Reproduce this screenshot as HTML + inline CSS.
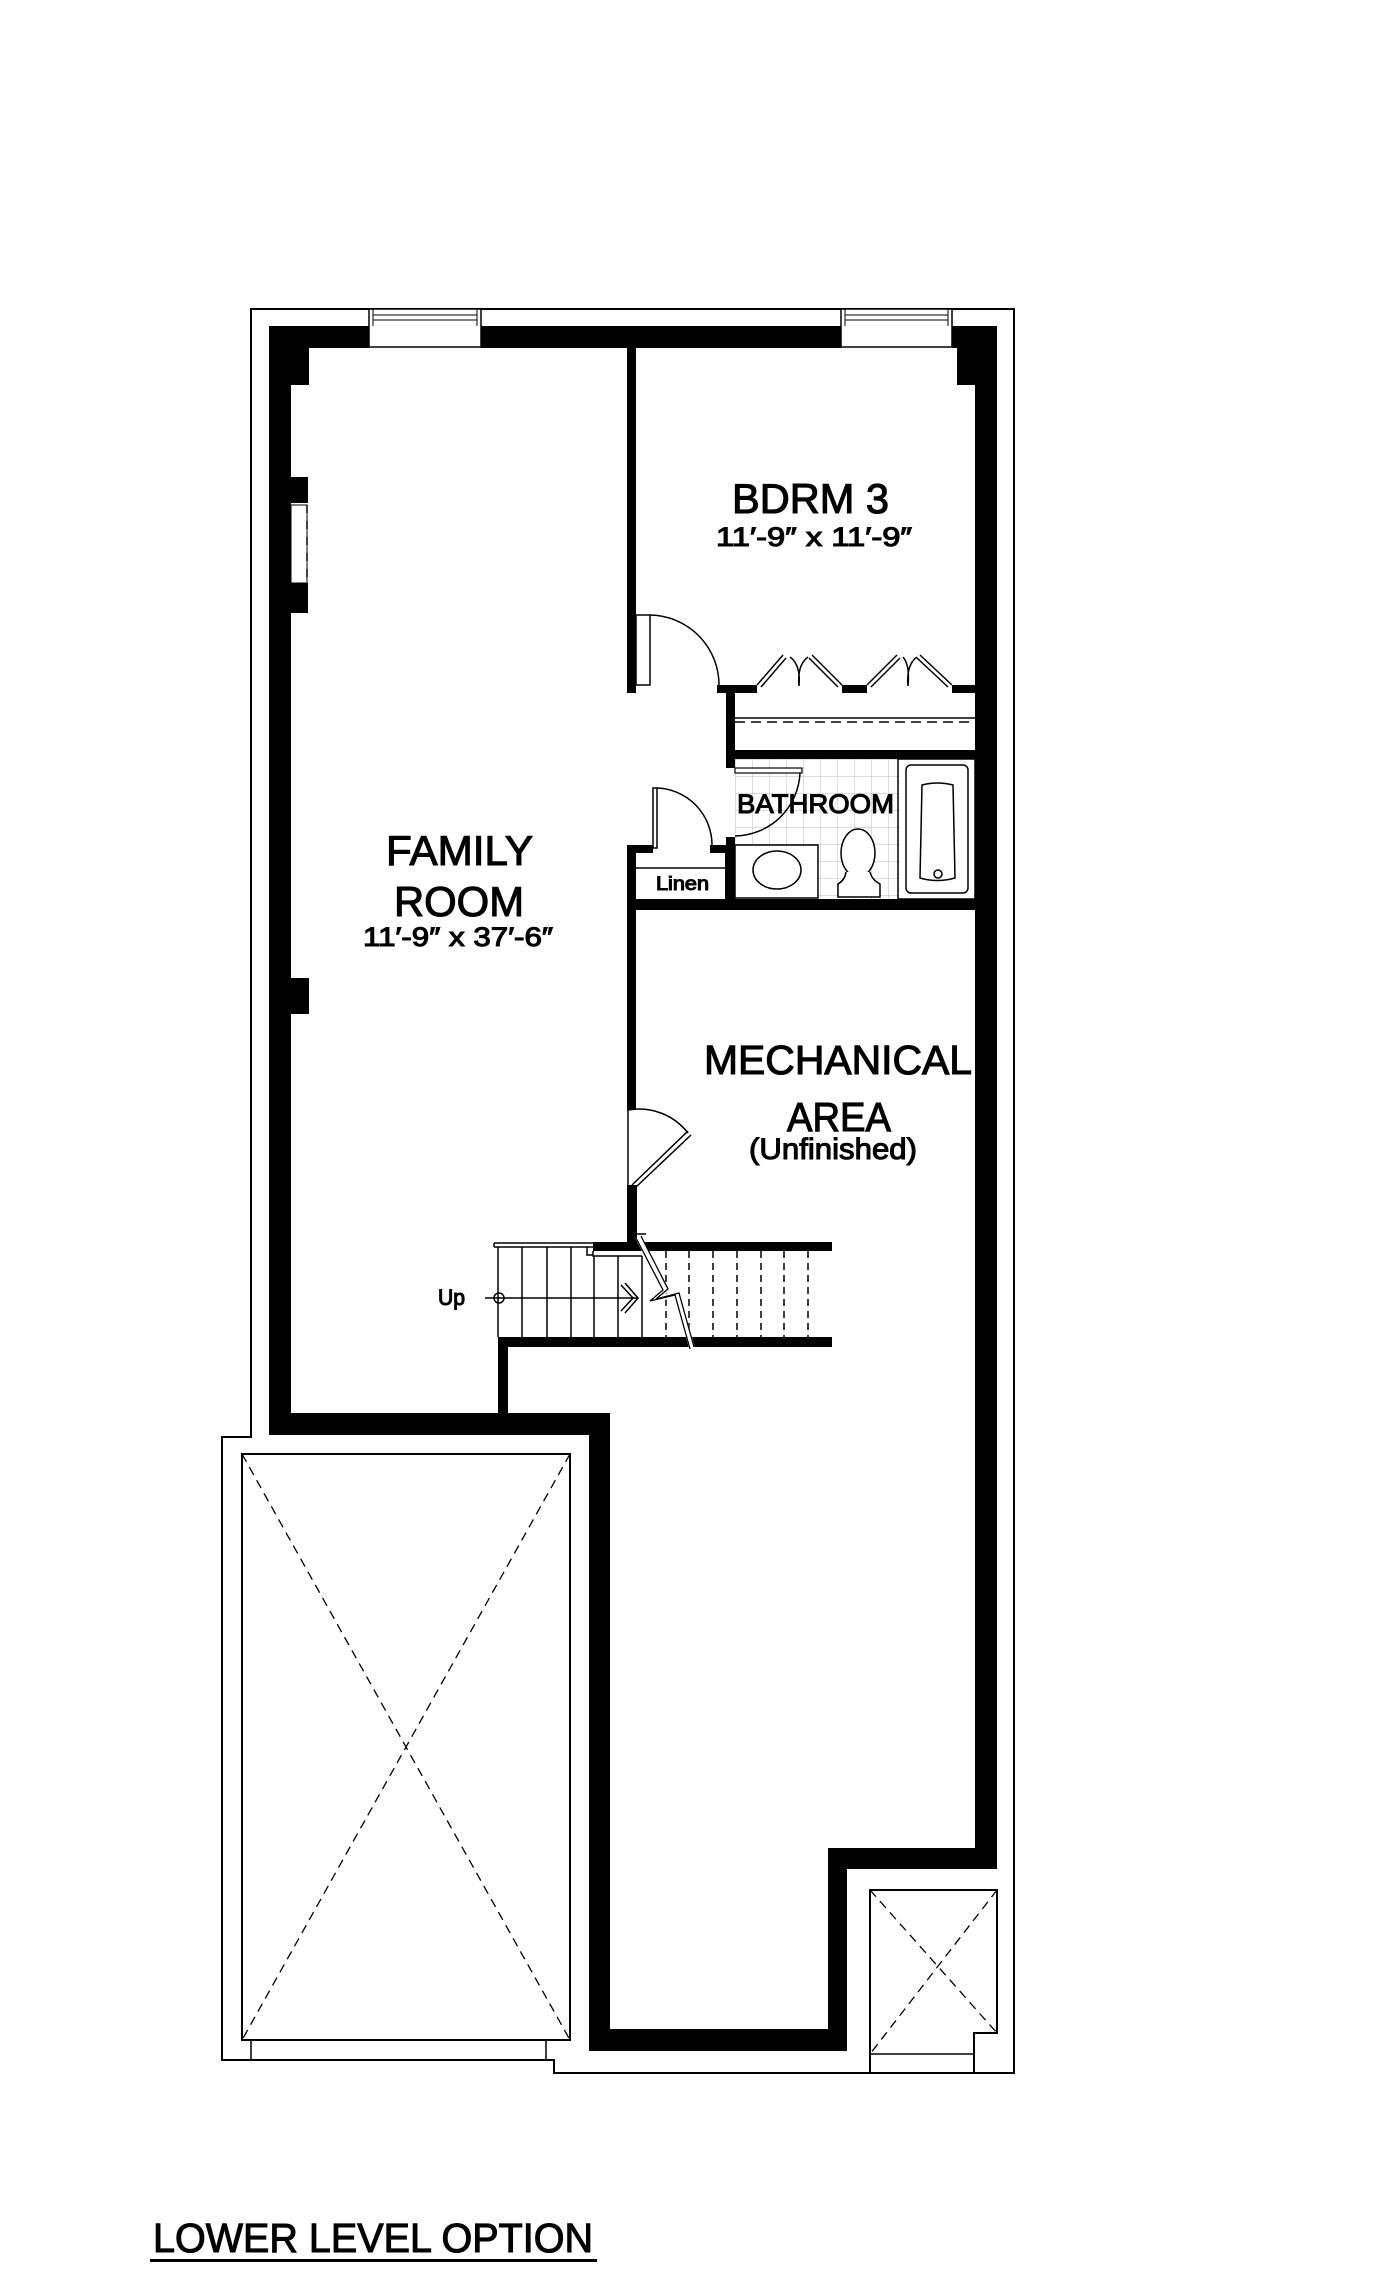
<!DOCTYPE html>
<html><head><meta charset="utf-8"><style>
html,body{margin:0;padding:0;background:#fff;}
svg{display:block;}
text{font-family:"Liberation Sans",sans-serif;fill:#000;stroke:#000;stroke-width:1.1;}
</style></head><body>
<svg width="1400" height="2277" viewBox="0 0 1400 2277" xmlns="http://www.w3.org/2000/svg">
<defs>
<pattern id="tile" x="735" y="759" width="17" height="17" patternUnits="userSpaceOnUse">
<path d="M0 0H17M0 0V17" stroke="#bbb" stroke-width="1" fill="none"/>
</pattern>
</defs>
<rect width="1400" height="2277" fill="#fff"/>

<!-- outer thin outline -->
<path d="M251 1437 V309 H1014 V2073 H554 V2060 H222 V1437 Z" fill="none" stroke="#000" stroke-width="2"/>

<!-- top windows -->
<g fill="#fff" stroke="#000" stroke-width="1.5">
<rect x="369" y="309" width="112" height="38"/>
<rect x="841" y="309" width="111" height="38"/>
</g>
<g stroke="#000" stroke-width="1" fill="none">
<path d="M373 309V326M477 309V326M373 315H477M373 320H477"/>
<path d="M845 309V326M948 309V326M845 315H948M845 320H948"/>
</g>

<!-- thick exterior walls -->
<g fill="#000">
<rect x="269" y="326" width="100" height="22"/>
<rect x="481" y="326" width="360" height="22"/>
<rect x="952" y="326" width="45" height="22"/>
<rect x="269" y="326" width="22" height="1109"/>
<rect x="975" y="326" width="22" height="1543"/>
<rect x="291" y="348" width="18" height="37"/>
<rect x="957" y="348" width="18" height="37"/>
<rect x="291" y="477" width="17" height="26"/>
<rect x="291" y="583" width="17" height="30"/>
<rect x="291" y="978" width="18" height="36"/>
<rect x="269" y="1413" width="341" height="22"/>
<rect x="589" y="1413" width="21" height="638"/>
<rect x="589" y="2029" width="258" height="22"/>
<rect x="828" y="1848" width="19" height="203"/>
<rect x="828" y="1848" width="169" height="21"/>
<rect x="627" y="348" width="9" height="345"/>
<rect x="627" y="685" width="9" height="8"/>
<rect x="717" y="685" width="40" height="8"/>
<rect x="842" y="685" width="25" height="8"/>
<rect x="952" y="685" width="23" height="8"/>
<rect x="726" y="685" width="9" height="83"/>
<rect x="726" y="750" width="249" height="9"/>
<rect x="726" y="837" width="9" height="70"/>
<rect x="627" y="899" width="348" height="11"/>
<rect x="627" y="845" width="9" height="265"/>
<rect x="627" y="845" width="26" height="8"/>
<rect x="710" y="845" width="16" height="8"/>
<rect x="627" y="1185" width="10" height="57"/>
<rect x="593" y="1242" width="239" height="9"/>
<rect x="498" y="1337" width="334" height="10"/>
<rect x="498" y="1337" width="10" height="78"/>
</g>

<!-- side window -->
<rect x="291" y="505" width="16" height="78" fill="#fff" stroke="#000" stroke-width="1"/>
<line x1="307" y1="505" x2="307" y2="583" stroke="#000" stroke-width="1.5" stroke-dasharray="8,8"/>

<!-- bedroom door -->
<rect x="636" y="615" width="14" height="70" fill="#fff" stroke="#000" stroke-width="1.5"/>
<path d="M650 615 A70 70 0 0 1 719 686" fill="none" stroke="#000" stroke-width="1.5"/>

<!-- bifold closet doors -->
<g fill="none" stroke="#000" stroke-width="1.5">
<path d="M757 685 L783 655 M761 687 L786 658"/>
<path d="M812 655 L842 685 M809 658 L838 687"/>
<path d="M790 657 Q801 665 799 686 M808 657 Q797 665 799 686"/>
<path d="M867 685 L897 655 M871 687 L900 658"/>
<path d="M920 655 L952 685 M917 658 L948 687"/>
<path d="M903 657 Q910 665 908 686 M917 657 Q906 665 908 686"/>
</g>
<line x1="735" y1="718" x2="975" y2="718" stroke="#000" stroke-width="1.5"/>
<line x1="735" y1="722" x2="975" y2="722" stroke="#000" stroke-width="1.5" stroke-dasharray="10,6"/>

<!-- bathroom -->
<rect x="735" y="759" width="163" height="140" fill="url(#tile)"/>
<rect x="898" y="759" width="77" height="140" fill="#fff" stroke="#000" stroke-width="1.5"/>
<rect x="906" y="765" width="62" height="128" rx="5" fill="#fff" stroke="#000" stroke-width="1.5"/>
<path d="M922 785 Q937 781 953 785 L955 878 Q937 883 920 878 Z" fill="#fff" stroke="#000" stroke-width="1.5"/>
<circle cx="938" cy="874" r="4" fill="#fff" stroke="#000" stroke-width="1.5"/>
<rect x="735" y="845" width="83" height="53" fill="#fff" stroke="#000" stroke-width="1.5"/>
<ellipse cx="777" cy="870" rx="24" ry="19" fill="#fff" stroke="#000" stroke-width="1.5"/>
<ellipse cx="858" cy="853" rx="17" ry="24" fill="#fff" stroke="#000" stroke-width="1.5"/>
<path d="M846 872 Q845 880 838 884 V897 H880 V884 Q872 880 870 872" fill="#fff" stroke="#000" stroke-width="1.5"/>
<rect x="735" y="768" width="67" height="5" fill="#fff" stroke="#000" stroke-width="1.2"/>
<path d="M800 773 A66 66 0 0 1 735 836" fill="none" stroke="#000" stroke-width="1.5"/>

<!-- linen -->
<rect x="653" y="788" width="4" height="60" fill="#fff" stroke="#000" stroke-width="1.5"/>
<path d="M657 788 A57 57 0 0 1 712 845" fill="none" stroke="#000" stroke-width="1.5"/>
<line x1="636" y1="868" x2="726" y2="868" stroke="#000" stroke-width="1.5"/>
<line x1="726" y1="853" x2="726" y2="899" stroke="#000" stroke-width="2"/>

<!-- mechanical door -->
<line x1="628" y1="1110" x2="628" y2="1185" stroke="#000" stroke-width="1.5"/>
<path d="M628 1110 A62 62 0 0 1 688 1133" fill="none" stroke="#000" stroke-width="1.5"/>
<path d="M688 1131 L632 1185 M691 1135 L636 1187" stroke="#000" stroke-width="1.5" fill="none"/>

<!-- stairs -->
<g stroke="#000" fill="none">
<path d="M494 1243 H593 M494 1247 H593 M494 1243 V1247" stroke-width="1.5"/>
<path d="M587 1247 V1255 H593" stroke-width="1.5"/>
<path d="M593 1251 V1256 H642" stroke-width="1.5"/>
<g stroke-width="1.5">
<path d="M498 1247V1337M522 1247V1337M547 1247V1337M571 1247V1337M594 1256V1337M618 1256V1337M642 1256V1337"/>
</g>
<g stroke-width="1.5" stroke-dasharray="7,5">
<path d="M666 1251V1337M689 1251V1337M713 1251V1337M737 1251V1337M761 1251V1337M784 1251V1337M808 1251V1337"/>
</g>
<line x1="485" y1="1298" x2="638" y2="1298" stroke-width="1.5"/>
<circle cx="499" cy="1298" r="5" stroke-width="1.5"/>
<path d="M625 1283 L638 1298 L625 1313 M621 1285 L633 1298 L621 1311" stroke-width="1.5"/>
<path d="M638 1237 L665 1290 L652 1300 L677 1294 L692 1348" stroke="#fff" stroke-width="6"/>
<path d="M636 1238 L663 1290 L650 1301 L675 1295 L690 1349" stroke-width="1.3"/>
<path d="M641 1236 L668 1289 L656 1299 L679 1293 L694 1347" stroke-width="1.3"/>
<path d="M636 1234 H646" stroke-width="1.5"/>
</g>

<!-- left dashed box -->
<rect x="242" y="1454" width="328" height="586" fill="none" stroke="#000" stroke-width="2"/>
<path d="M242 1454 L570 2040 M570 1454 L242 2040" stroke="#000" stroke-width="1.3" stroke-dasharray="9,6"/>
<path d="M251 2040 V2060 M546 2040 V2060" stroke="#000" stroke-width="1.5"/>

<!-- small box -->
<path d="M870 2073 V1890 H997 V2033 H974 V2073" fill="none" stroke="#000" stroke-width="2"/>
<line x1="870" y1="2054" x2="974" y2="2054" stroke="#000" stroke-width="1.5"/>
<path d="M870 1890 L997 2033 M997 1890 L870 2054" stroke="#000" stroke-width="1.3" stroke-dasharray="9,6"/>

<!-- labels -->
<text x="732" y="513" font-size="42" textLength="157" lengthAdjust="spacingAndGlyphs">BDRM 3</text>
<text x="716" y="546" font-size="27" textLength="196" lengthAdjust="spacingAndGlyphs">11′-9″ x 11′-9″</text>
<text x="386" y="865" font-size="42" textLength="147" lengthAdjust="spacingAndGlyphs">FAMILY</text>
<text x="394" y="916" font-size="42" textLength="130" lengthAdjust="spacingAndGlyphs">ROOM</text>
<text x="363" y="946" font-size="27" textLength="190" lengthAdjust="spacingAndGlyphs">11′-9″ x 37′-6″</text>
<text x="737" y="813" font-size="27" textLength="157" lengthAdjust="spacingAndGlyphs">BATHROOM</text>
<text x="656" y="890" font-size="19" textLength="53" lengthAdjust="spacingAndGlyphs">Linen</text>
<text x="704" y="1074" font-size="41" textLength="268" lengthAdjust="spacingAndGlyphs">MECHANICAL</text>
<text x="787" y="1131" font-size="41" textLength="104" lengthAdjust="spacingAndGlyphs">AREA</text>
<text x="749" y="1159" font-size="30" textLength="168" lengthAdjust="spacingAndGlyphs">(Unfinished)</text>
<text x="438" y="1305" font-size="22" textLength="27" lengthAdjust="spacingAndGlyphs">Up</text>
<text x="153" y="2252" font-size="41" textLength="440" lengthAdjust="spacingAndGlyphs">LOWER LEVEL OPTION</text>
<rect x="150" y="2259" width="447" height="3" fill="#000"/>
</svg>
</body></html>
